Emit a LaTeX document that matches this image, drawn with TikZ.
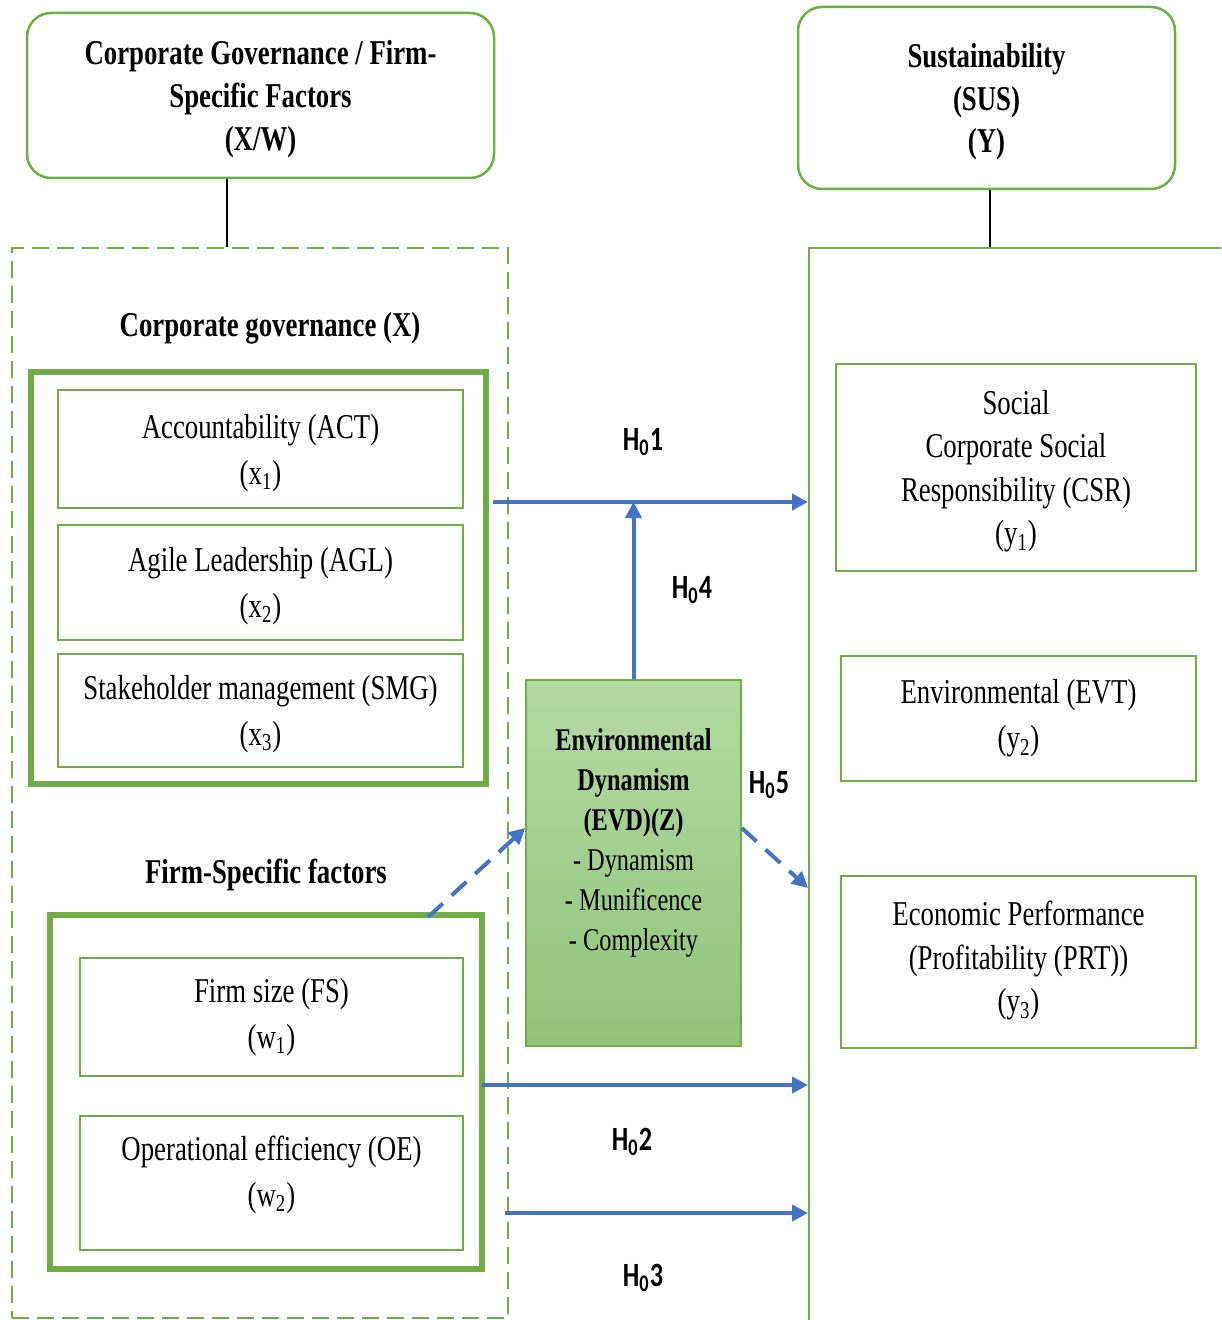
\documentclass[tikz,border=0pt]{standalone}
\usepackage{fontspec}
\setmainfont{Liberation Serif}[FakeStretch=0.77]
\newfontfamily\hypfont{Carlito}[FakeStretch=0.77]
\usetikzlibrary{calc, positioning}
\usetikzlibrary{arrows.meta}

\definecolor{boxgreen}{HTML}{70AD47}
\definecolor{arrowblue}{HTML}{4472C4}
\definecolor{evdtop}{HTML}{B4D9A3}
\definecolor{evdbot}{HTML}{8FC47A}

\newcommand{\mainsize}{\fontsize{17.4}{23}\selectfont}
\newcommand{\headsize}{\fontsize{17.4}{21.3}\selectfont}
\newcommand{\rightsize}{\fontsize{17.4}{21.8}\selectfont}

\tikzset{
  headbox/.style={draw=boxgreen, line width=1.25pt, rounded corners=12pt, inner sep=0, text depth=0pt, align=center, font=\headsize\bfseries},
  itembox/.style={draw=boxgreen, line width=1.2pt, inner sep=0, align=center, font=\mainsize},
  groupbox/.style={draw=boxgreen, line width=3pt, inner sep=0},
  framebox/.style={draw=boxgreen, line width=1pt, inner sep=0},
  hyparrow/.style={draw=arrowblue, line width=2pt, -{Triangle[length=8pt,width=8pt]}},
  hyplabel/.style={font=\fontsize{17}{20}\selectfont\hypfont\bfseries},
}

\begin{document}
\begin{tikzpicture}[x=0.5pt, y=-0.5pt]
\useasboundingbox (0,0) rectangle (1221,1320);
\clip (0,0) rectangle (1221,1320);

% outer frames
\node[framebox, dash pattern=on 8.5pt off 4pt, minimum width=248pt, minimum height=535pt] (xwframe) at (260,783) {};
\node[framebox, minimum width=215.5pt, minimum height=546pt] (susframe) at (1024.5,794) {};

% top boxes
\node[headbox, minimum width=233.5pt, minimum height=82.5pt] (cgfs) at (260.5,95.5) {Corporate Governance / Firm-\\Specific Factors\\(X/W)};
\node[headbox, minimum width=188.5pt, minimum height=91pt] (sus) at (986.5,98) {Sustainability\\(SUS)\\(Y)};

\coordinate (lk) at (227,0);
\coordinate (rk) at (990,0);
\draw[line width=1pt] (cgfs.south -| lk) -- (xwframe.north -| lk);
\draw[line width=1pt] (sus.south -| rk) -- (susframe.north -| rk);

% corporate governance
\node[font=\mainsize\bfseries] (cghead) at (270,328) {Corporate governance (X)};
\node[groupbox, minimum width=227.5pt, minimum height=206pt] (cg) at (258.5,578) {};
\node[itembox, text depth=0pt, minimum width=202.5pt, minimum height=59pt] (act) at (260.5,449) {Accountability (ACT)\\(x\textsubscript{1})};
\node[itembox, text depth=0pt, minimum width=202.5pt, minimum height=57.5pt] (agl) at (260.5,582.5) {Agile Leadership (AGL)\\(x\textsubscript{2})};
\node[itembox, text depth=0pt, minimum width=202.5pt, minimum height=56.5pt] (smg) at (260.5,710.5) {Stakeholder management (SMG)\\(x\textsubscript{3})};

% firm-specific factors
\node[font=\mainsize\bfseries] (fshead) at (266,875) {Firm-Specific factors};
\node[groupbox, minimum width=216pt, minimum height=177pt] (fsg) at (266,1092) {};
\node[itembox, minimum width=191.5pt, minimum height=59pt] (fs) at (271.5,1017) {Firm size (FS)\\(w\textsubscript{1})};
\node[itembox, text depth=12pt, minimum width=191.5pt, minimum height=67pt] (oe) at (271.5,1183) {Operational efficiency (OE)\\(w\textsubscript{2})};

% moderator
\node[draw=boxgreen, line width=0.8pt, top color=evdtop, bottom color=evdbot, minimum width=107.5pt, minimum height=183pt, inner sep=0] (evd) at (633.5,863) {};
\node[align=center, font=\fontsize{15.8}{20}\selectfont] (evdtext) at (633.5,842.5) {\textbf{Environmental}\\\textbf{Dynamism}\\\textbf{(EVD)(Z)}\\- Dynamism\\- Munificence\\- Complexity};

% sustainability dimensions
\node[itembox, font=\rightsize, text depth=0pt, minimum width=180pt, minimum height=103.5pt] (csr) at (1016,467.5) {Social\\Corporate Social\\Responsibility (CSR)\\(y\textsubscript{1})};
\node[itembox, minimum width=177.5pt, minimum height=62.5pt] (evt) at (1018.5,718.5) {Environmental (EVT)\\(y\textsubscript{2})};
\node[itembox, font=\rightsize, text depth=5pt, minimum width=177.5pt, minimum height=86pt] (prt) at (1018.5,962) {Economic Performance\\(Profitability (PRT))\\(y\textsubscript{3})};

% hypotheses
\coordinate (h1s) at (493,502);
\coordinate (h2s) at (482,1085);
\coordinate (h3s) at (505,1213);
\coordinate (m1s) at (428,917);
\coordinate (zlev) at (633,828);
\coordinate (m2e) at (0,888);

\draw[hyparrow] (h1s) -- (h1s -| susframe.west);
\draw[hyparrow] (evd.north) -- (evd.north |- h1s);
\draw[hyparrow] (h2s) -- (h2s -| susframe.west);
\draw[hyparrow] (h3s) -- (h3s -| susframe.west);
\draw[hyparrow, dash pattern=on 10pt off 6pt] (m1s) -- (evd.west |- zlev);
\draw[hyparrow, dash pattern=on 10pt off 6pt] (evd.east |- zlev) -- (susframe.west |- m2e);

\node[hyplabel] (h1) at (643,442) {H\textsubscript{0}1};
\node[hyplabel] (h4) at (692,590) {H\textsubscript{0}4};
\node[hyplabel] (h5) at (769,785) {H\textsubscript{0}5};
\node[hyplabel] (h2) at (632,1142) {H\textsubscript{0}2};
\node[hyplabel] (h3) at (643,1278) {H\textsubscript{0}3};
\end{tikzpicture}
\end{document}
